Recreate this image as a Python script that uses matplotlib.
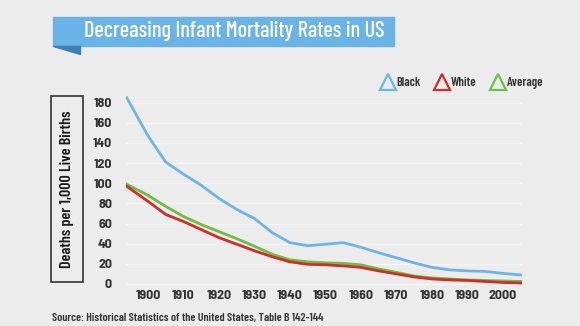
import matplotlib
matplotlib.use("Agg")
import matplotlib.pyplot as plt
from matplotlib.patches import Rectangle, Polygon
from matplotlib.lines import Line2D

# approximate values (deaths per 1,000 live births)
years = [1894, 1900, 1905, 1910, 1915, 1920, 1925, 1930, 1935, 1940, 1945, 1950,
         1955, 1960, 1965, 1970, 1975, 1980, 1985, 1990, 1995, 2000, 2005]
black = [185, 147, 121, 109, 98, 85, 74, 65, 51, 41, 38, 39.5,
         41, 36.5, 31, 26, 21, 16.5, 14, 13, 12.5, 10.5, 9]
white = [97, 82, 69, 62, 54, 46, 39.5, 33, 27, 22, 19.5, 19,
         18, 16.5, 13, 10, 7, 5, 4, 3.5, 2.5, 1.5, 1]
average = [99, 88, 77, 67, 59, 52, 45, 37.5, 29.5, 24, 22, 21,
           20.5, 19, 15, 11.5, 8, 6, 5, 4, 3.5, 3, 2.5]
yticks = [0, 20, 40, 60, 80, 100, 120, 140, 160, 180]
xticks = [1900, 1910, 1920, 1930, 1940, 1950, 1960, 1970, 1980, 1990, 2000]

W, H = 580, 326
bg = "#ececec"
c_black = "#6fb5e3"
c_white = "#d42b2b"
c_avg = "#6cbf45"
font = "Barlow Condensed"
font_tick = "Barlow Semi Condensed"


def fx(px):
    return px / W


def fy(py):
    return 1 - py / H


fig = plt.figure(figsize=(W / 100, H / 100), dpi=100, facecolor=bg)
ax = fig.add_axes([fx(126), fy(286), fx(522) - fx(126), fy(94.6) - fy(286)])
ax.set_facecolor(bg)

for y in yticks:
    ax.axhline(y, color="#f5f5f5", lw=1.0, zorder=0)

ax.plot(years, black, color=c_black, lw=2)
ax.plot(years, average, color=c_avg, lw=2)
ax.plot(years, white, color=c_white, lw=2)

ax.set_xlim(1893.8, 2005.4)
ax.set_ylim(-2, 188)
ax.set_yticks(yticks)
ax.set_xticks(xticks)
for s in ax.spines.values():
    s.set_visible(False)
ax.tick_params(length=0, labelsize=10, labelcolor="#333333")
ax.tick_params(axis="y", pad=10)
ax.tick_params(axis="x", pad=3)
for lab in ax.get_xticklabels() + ax.get_yticklabels():
    lab.set_fontfamily(font_tick)
    lab.set_fontweight("bold")

# title banner
fig.patches.append(Rectangle((fx(53), fy(46)), fx(394) - fx(53), fy(17) - fy(46),
                             transform=fig.transFigure, color="#6ab3e6", zorder=1))
fig.patches.append(Polygon([(fx(53), fy(46)), (fx(80), fy(46)), (fx(80), fy(54))],
                           transform=fig.transFigure, color="#3f7fb3", zorder=1))
fig.text(fx(234), fy(31), "Decreasing Infant Mortality Rates in US", color="white",
         fontsize=16, fontfamily=font, fontweight="medium", ha="center", va="center")

# y label box
fig.patches.append(Rectangle((fx(51), fy(282)), fx(83) - fx(51), fy(96) - fy(282),
                             transform=fig.transFigure, fill=False,
                             edgecolor="#333333", lw=1.2))
fig.text(fx(67), fy(189), "Deaths per 1,000 Live Births", rotation=90,
         fontsize=11.5, fontweight="semibold", fontfamily=font, color="#1a1a1a",
         ha="center", va="center")

# legend
handles = [Line2D([], [], ls="none", marker="^", ms=11, mfc="none", mew=1.6, mec=c)
           for c in (c_black, c_white, c_avg)]
fig.legend(handles, ["Black", "White", "Average"], loc="center",
           bbox_to_anchor=(fx(463), fy(83)), ncol=3, frameon=False,
           handlelength=0.8, handletextpad=0.3, columnspacing=1.3,
           prop={"family": font, "weight": "semibold", "size": 9})
for t in fig.legends[0].get_texts():
    t.set_color("#333333")

fig.text(fx(52), fy(318), "Source: Historical Statistics of the United States, Table B 142-144",
         fontsize=8.5, fontweight="semibold", fontfamily=font, color="#333333",
         ha="left", va="center")

fig.savefig("out.png", dpi=100, facecolor=bg)
